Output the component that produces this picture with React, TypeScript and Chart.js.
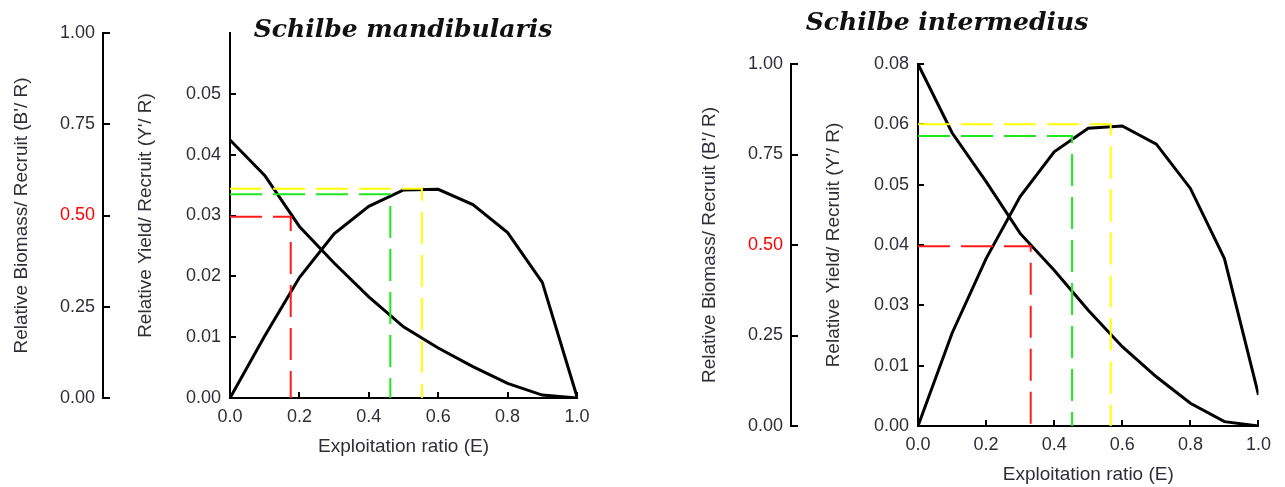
import React, { useEffect, useRef } from "react";
import { Chart, registerables } from "chart.js";

Chart.register(...registerables);

// ---- data ----
const exploitation = [0, 0.1, 0.2, 0.3, 0.4, 0.5, 0.6, 0.7, 0.8, 0.9, 1.0];

// Schilbe mandibularis
const mandYield = [0, 0.0102, 0.0198, 0.027, 0.0315, 0.0342, 0.0343, 0.0318, 0.0272, 0.019, 0.0002];
const mandBiomass = [0.707, 0.61, 0.47, 0.37, 0.277, 0.195, 0.137, 0.086, 0.04, 0.008, 0];
const mandRefE = [0.175, 0.462, 0.553];
const mandRefLevel = [0.0298, 0.0335, 0.0344];
const mandYieldTicks = [0, 0.01, 0.02, 0.03, 0.04, 0.05];
const mandYieldLabels = ["0.00", "0.01", "0.02", "0.03", "0.04", "0.05"];
const mandYieldMax = 0.06;

// Schilbe intermedius
const interYield = [0, 0.0205, 0.037, 0.0507, 0.0606, 0.0658, 0.0663, 0.0623, 0.0525, 0.037, 0.0069];
const interBiomass = [1.0, 0.81, 0.675, 0.532, 0.43, 0.32, 0.219, 0.136, 0.063, 0.012, 0];
const interRefE = [0.331, 0.4525, 0.566];
const interRefLevel = [0.0397, 0.0641, 0.0667];
const interYieldTicks = [0, 0.01333, 0.02667, 0.04, 0.05333, 0.06667, 0.08];
const interYieldLabels = ["0.00", "0.01", "0.03", "0.04", "0.05", "0.06", "0.08"];
const interYieldMax = 0.08;

const biomassTicks = [0, 0.25, 0.5, 0.75, 1.0];
const xTicks = [0, 0.2, 0.4, 0.6, 0.8, 1.0];
const refColors = ["#ff1a1a", "#1ee81e", "#ffff00"];

const titleMand = "Schilbe mandibularis";
const titleInter = "Schilbe intermedius";
const xTitle = "Exploitation ratio (E)";
const biomassTitle = "Relative Biomass/ Recruit (B'/ R)";
const yieldTitle = "Relative Yield/ Recruit (Y'/ R)";

const FONT = "'Liberation Sans', Arial, sans-serif";
const TEXT = "#2e2e38";

type Panel = {
  title: string;
  titleDx: number;
  titleY: number;
  yieldVals: number[];
  biomassVals: number[];
  refE: number[];
  refLevel: number[];
  yieldTicks: number[];
  yieldLabels: string[];
  yieldMax: number;
  padding: { left: number; top: number; right: number; bottom: number };
  biomassWidth: number;
};

function titlePlugin(text: string, dx: number, y: number) {
  return {
    id: "panelTitle",
    afterDraw(chart: any) {
      const ctx = chart.ctx;
      ctx.save();
      ctx.font = "bold italic 25px 'DejaVu Serif', 'Liberation Serif', serif";
      ctx.fillStyle = "#111";
      ctx.textAlign = "center";
      ctx.textBaseline = "middle";
      ctx.fillText(text, chart.chartArea.left + dx, y);
      ctx.restore();
    },
  };
}

function buildConfig(p: Panel): any {
  const refSets = p.refE.map((e, i) => ({
    data: [
      { x: 0, y: p.refLevel[i] },
      { x: e, y: p.refLevel[i] },
      { x: e, y: 0 },
    ],
    yAxisID: "y",
    borderColor: refColors[i],
    borderWidth: 2,
    borderDash: [32, 11],
    pointRadius: 0,
    tension: 0,
  }));
  const grid = {
    drawOnChartArea: false,
    drawTicks: true,
    tickLength: -6,
    color: "#000",
    lineWidth: 2,
  };
  const border = { display: true, color: "#000", width: 2 };
  const titleFont = { family: FONT, size: 19 };
  return {
    type: "line",
    data: {
      datasets: [
        ...refSets,
        {
          data: exploitation.map((e, i) => ({ x: e, y: p.yieldVals[i] })),
          yAxisID: "y",
          borderColor: "#000",
          borderWidth: 3,
          pointRadius: 0,
          tension: 0,
        },
        {
          data: exploitation.map((e, i) => ({ x: e, y: p.biomassVals[i] })),
          yAxisID: "b",
          borderColor: "#000",
          borderWidth: 3,
          pointRadius: 0,
          tension: 0,
        },
      ],
    },
    options: {
      responsive: false,
      animation: false,
      events: [],
      layout: { padding: p.padding },
      plugins: { legend: { display: false }, tooltip: { enabled: false }, title: { display: false } },
      scales: {
        x: {
          type: "linear",
          position: "bottom",
          min: 0,
          max: 1,
          grid,
          border,
          afterBuildTicks: (s: any) => {
            s.ticks = xTicks.map((v) => ({ value: v }));
          },
          afterFit: (s: any) => {
            s.height = 60;
          },
          ticks: {
            color: TEXT,
            font: { family: FONT, size: 18 },
            padding: 14,
            maxRotation: 0,
            callback: (v: number) => Number(v).toFixed(1),
          },
          title: {
            display: true,
            text: xTitle,
            color: TEXT,
            font: titleFont,
            padding: { top: 0, bottom: 0 },
          },
        },
        y: {
          type: "linear",
          position: "left",
          weight: 0,
          min: 0,
          max: p.yieldMax,
          grid,
          border,
          afterBuildTicks: (s: any) => {
            s.ticks = p.yieldTicks.map((v) => ({ value: v }));
          },
          afterFit: (s: any) => {
            s.width = 127;
          },
          ticks: {
            color: TEXT,
            font: { family: FONT, size: 18 },
            padding: 15,
            callback: (_v: number, i: number) => p.yieldLabels[i],
          },
          title: {
            display: true,
            text: yieldTitle,
            color: TEXT,
            font: titleFont,
            padding: { top: 31, bottom: 0 },
          },
        },
        b: {
          type: "linear",
          position: "left",
          weight: 10,
          min: 0,
          max: 1,
          grid: { ...grid, tickLength: -7 },
          border,
          afterBuildTicks: (s: any) => {
            s.ticks = biomassTicks.map((v) => ({ value: v }));
          },
          afterFit: (s: any) => {
            s.width = p.biomassWidth;
          },
          ticks: {
            color: (c: any) => (c.tick && Math.abs(c.tick.value - 0.5) < 1e-9 ? "#ff0000" : TEXT),
            font: { family: FONT, size: 18 },
            padding: 15,
            callback: (v: number) => Number(v).toFixed(2),
          },
          title: {
            display: true,
            text: biomassTitle,
            color: TEXT,
            font: titleFont,
            padding: { top: 10, bottom: 0 },
          },
        },
      },
    },
    plugins: [titlePlugin(p.title, p.titleDx, p.titleY)],
  };
}

function ChartCanvas({ panel, left, width }: { panel: Panel; left: number; width: number }) {
  const ref = useRef<HTMLCanvasElement | null>(null);
  useEffect(() => {
    if (!ref.current) return;
    const chart = new Chart(ref.current, buildConfig(panel));
    return () => chart.destroy();
  }, []);
  return (
    <canvas
      ref={ref}
      width={width}
      height={487}
      style={{ position: "absolute", left, top: 0, width, height: 487 }}
    />
  );
}

const leftPanel: Panel = {
  title: titleMand,
  titleDx: 173,
  titleY: 30,
  yieldVals: mandYield,
  biomassVals: mandBiomass,
  refE: mandRefE,
  refLevel: mandRefLevel,
  yieldTicks: mandYieldTicks,
  yieldLabels: mandYieldLabels,
  yieldMax: mandYieldMax,
  padding: { left: 0, top: 33, right: 63, bottom: 29 },
  biomassWidth: 103,
};

const rightPanel: Panel = {
  title: titleInter,
  titleDx: 29,
  titleY: 23,
  yieldVals: interYield,
  biomassVals: interBiomass,
  refE: interRefE,
  refLevel: interRefLevel,
  yieldTicks: interYieldTicks,
  yieldLabels: interYieldLabels,
  yieldMax: interYieldMax,
  padding: { left: 48, top: 64, right: 23, bottom: 1 },
  biomassWidth: 103,
};

export default function App() {
  return (
    <div style={{ position: "absolute", left: 0, top: 0, width: 1285, height: 487, background: "#fff" }}>
      <ChartCanvas panel={leftPanel} left={0} width={640} />
      <ChartCanvas panel={rightPanel} left={640} width={645} />
    </div>
  );
}
